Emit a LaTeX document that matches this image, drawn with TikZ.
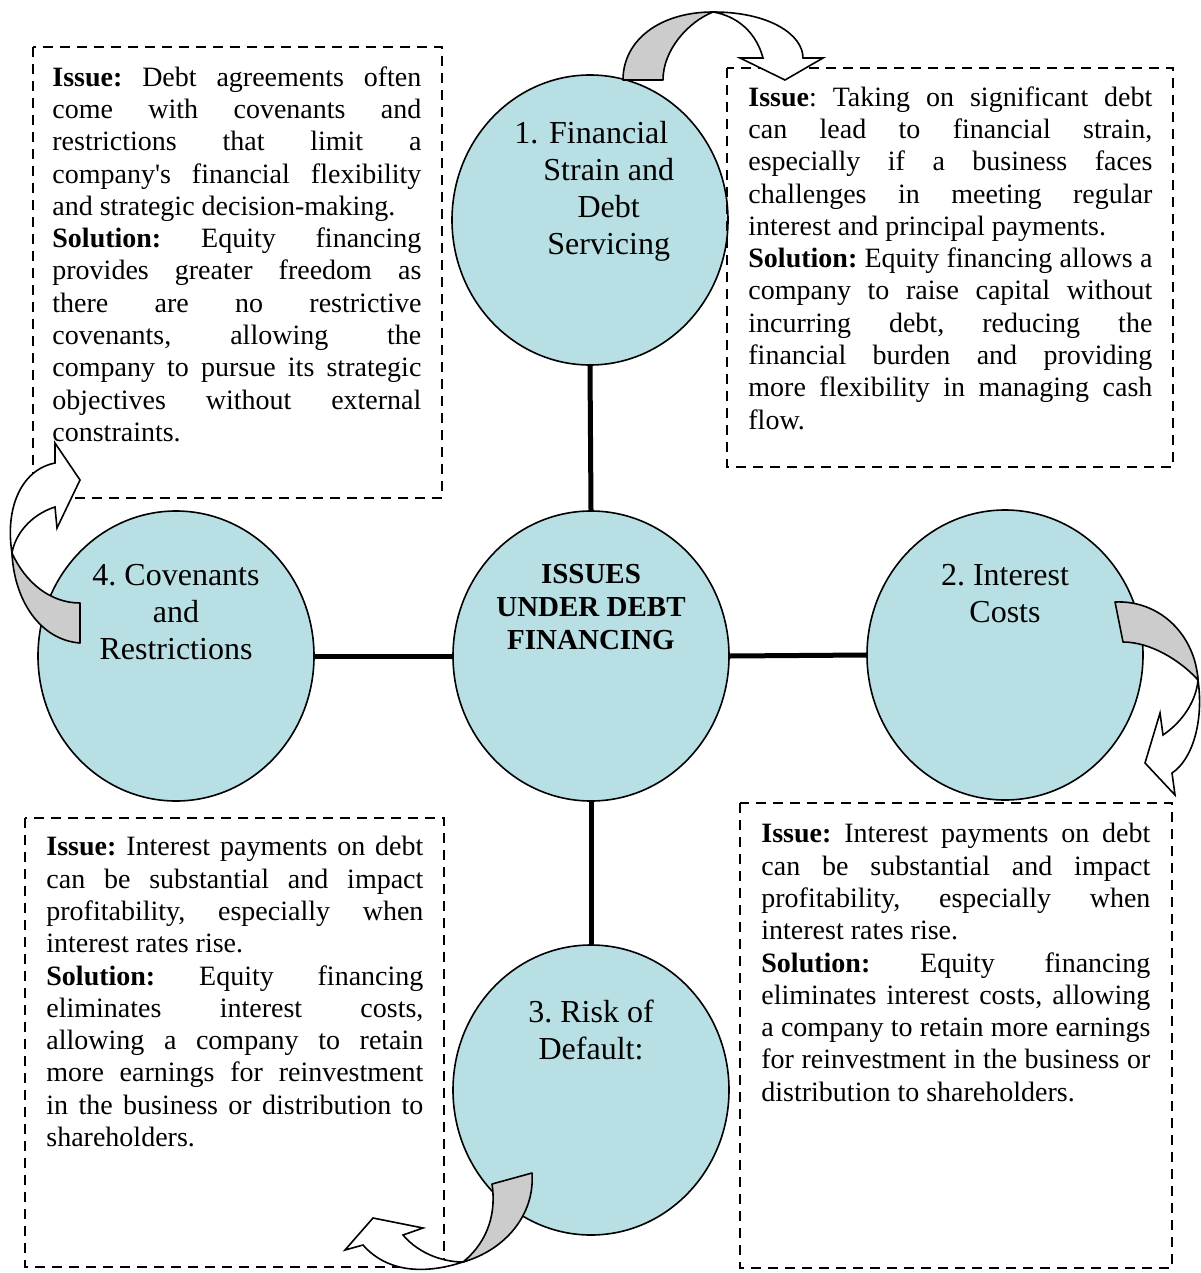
\documentclass[tikz,border=0pt]{standalone}
\usepackage{fontspec}
\setmainfont{Liberation Serif}
\newfontfamily\noligserif{Liberation Serif}[Ligatures=TeXOff]
\usetikzlibrary{shapes.geometric}
\definecolor{circ}{RGB}{184,223,227}
\definecolor{tailgray}{RGB}{204,204,204}
\tolerance=10000
\hyphenpenalty=10000
\exhyphenpenalty=10000
\hbadness=10000
\frenchspacing
\newcommand{\sq}{{\noligserif\char39}}
\begin{document}
\begin{tikzpicture}[x=0.5pt,y=-0.5pt,
  bubble/.style={draw=black,line width=0.8pt,fill=circ,ellipse,inner sep=0pt,minimum width=138pt,minimum height=145pt},
  dbox/.style={draw=black,line width=1pt,dash pattern=on 5pt off 3.5pt},
  txt/.style={anchor=north west,inner sep=0pt,align=justify,font=\fontsize{14}{16.15}\selectfont},
  ctext/.style={align=center,inner sep=0pt,font=\fontsize{16}{18.5}\selectfont},
  spoke/.style={line width=2.5pt},
  cback/.style={draw=black,line width=0.8pt,fill=tailgray,line join=round},
  cfront/.style={draw=black,line width=0.8pt,fill=white,line join=miter}]
\useasboundingbox (0,0) rectangle (1200,1273);

% bubbles
\node[bubble] (c)  at (591,656) {};
\node[bubble] (c1) at (590,220) {};
\node[bubble] (c2) at (1005,655) {};
\node[bubble] (c3) at (591,1090) {};
\node[bubble] (c4) at (176,656) {};

% spokes
\draw[spoke] (c.north) -- (c1.south);
\draw[spoke] (c.south) -- (c3.north);
\draw[spoke] (c.west) -- (c4.east);
\draw[spoke] (c.east) -- (c2.west);

% dashed boxes
\draw[dbox] (33,47) rectangle (442,498);
\draw[dbox] (727,68) rectangle (1173,467);
\draw[dbox] (25,818) rectangle (444,1267);
\draw[dbox] (740,803) rectangle (1172,1268);

% bubble texts
\node[inner sep=0pt,font=\fontsize{14.5}{16.7}\selectfont\bfseries,align=center] (ct) at (591,607) {ISSUES\\UNDER DEBT\\FINANCING};
\node[inner sep=0pt,anchor=west,font=\fontsize{16}{18.5}\selectfont] (t1) at (514,192)
  {\begin{tabular}{@{}l@{\hspace{2.5pt}}c@{}}1.&Financial\\&Strain and\\&Debt\\&Servicing\end{tabular}};
\node[ctext] (t2) at (1005,594) {2. Interest\\Costs};
\node[ctext] (t3) at (591,1030) {3. Risk of\\Default:};
\node[ctext] (t4) at (176,612) {4. Covenants\\and\\Restrictions};

% box texts
\node[txt,text width=184.5pt] (ba) at (52,66) {%
\textbf{Issue:} Debt agreements often\linebreak
come with covenants and\linebreak
restrictions that limit a\linebreak
company\sq s financial flexibility\linebreak
and strategic decision-making.\par
\textbf{Solution:} Equity financing\linebreak
provides greater freedom as\linebreak
there are no restrictive\linebreak
covenants, allowing the\linebreak
company to pursue its strategic\linebreak
objectives without external\linebreak
constraints.\par};

\node[txt,text width=202pt] (bb) at (748,86) {%
\textbf{Issue}: Taking on significant debt\linebreak
can lead to financial strain,\linebreak
especially if a business faces\linebreak
challenges in meeting regular\linebreak
interest and principal payments.\par
\textbf{Solution:} Equity financing allows a\linebreak
company to raise capital without\linebreak
incurring debt, reducing the\linebreak
financial burden and providing\linebreak
more flexibility in managing cash\linebreak
flow.\par};

\node[txt,text width=188.5pt] (bc) at (46,836) {%
\textbf{Issue:} Interest payments on debt\linebreak
can be substantial and impact\linebreak
profitability, especially when\linebreak
interest rates rise.\par
\textbf{Solution:} Equity financing\linebreak
eliminates interest costs,\linebreak
allowing a company to retain\linebreak
more earnings for reinvestment\linebreak
in the business or distribution to\linebreak
shareholders.\par};

\node[txt,text width=194.5pt] (bd) at (761,823) {%
\textbf{Issue:} Interest payments on debt\linebreak
can be substantial and impact\linebreak
profitability, especially when\linebreak
interest rates rise.\par
\textbf{Solution:} Equity financing\linebreak
eliminates interest costs, allowing\linebreak
a company to retain more earnings\linebreak
for reinvestment in the business or\linebreak
distribution to shareholders.\par};

% curved arrow 1 (top)
\draw[cback] (623,80) .. controls (623,40) and (660,12) .. (713,12)
  .. controls (688,22) and (663,50) .. (663,80) -- cycle;
\draw[cfront] (713,12) .. controls (770,12) and (803,35) .. (803,58)
  -- (823,58) -- (785,80) -- (740,58) -- (763,58)
  .. controls (756,32) and (737,16) .. (713,12) -- cycle;

% curved arrow 2 (right)
\draw[cback] (1115,602) .. controls (1160,600) and (1195,635) .. (1198,680)
  .. controls (1180,660) and (1150,642) .. (1123,642) -- cycle;
\draw[cfront] (1198,680) .. controls (1204,722) and (1192,760) .. (1172,773)
  -- (1175,795) -- (1145,763) -- (1160,713) -- (1163,735)
  .. controls (1182,722) and (1196,702) .. (1198,680) -- cycle;

% curved arrow 3 (bottom)
\draw[cback] (532,1173) .. controls (535,1215) and (505,1250) .. (463,1262)
  .. controls (490,1240) and (496,1210) .. (492,1184) -- cycle;
\draw[cfront] (463,1262) .. controls (420,1276) and (385,1270) .. (363,1245)
  -- (345,1250) -- (373,1218) -- (423,1228) -- (403,1235)
  .. controls (420,1255) and (445,1262) .. (463,1262) -- cycle;

% curved arrow 4 (left)
\draw[cback] (80,643) .. controls (40,640) and (14,600) .. (12,553)
  .. controls (25,582) and (50,603) .. (80,603) -- cycle;
\draw[cfront] (12,553) .. controls (5,510) and (20,470) .. (55,463)
  -- (55,443) -- (80,480) -- (57,528) -- (55,507)
  .. controls (30,515) and (15,535) .. (12,553) -- cycle;
\end{tikzpicture}
\end{document}
